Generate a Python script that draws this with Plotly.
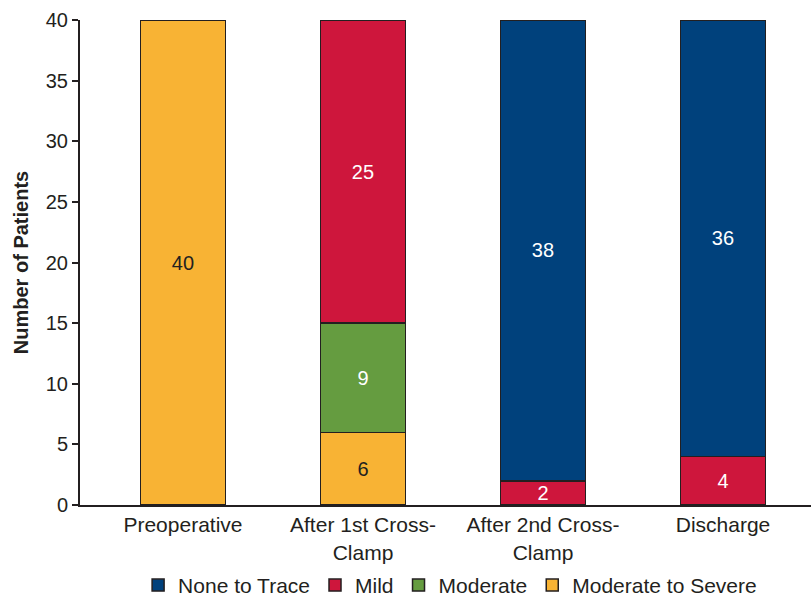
import plotly.graph_objects as go

categories = ["Preoperative", "After 1st Cross-<br>Clamp", "After 2nd Cross-<br>Clamp", "Discharge"]
mod_severe = [40, 6, None, None]
moderate = [None, 9, None, None]
mild = [None, 25, 2, 4]
none_trace = [None, None, 38, 36]

series = [
    ("Moderate to Severe", mod_severe, "#F8B334", "#231F20"),
    ("Moderate", moderate, "#659C40", "white"),
    ("Mild", mild, "#CE163C", "white"),
    ("None to Trace", none_trace, "#00417C", "white"),
]

FONT = "Liberation Sans, Arial"

fig = go.Figure()
for name, vals, color, tcolor in series:
    fig.add_trace(go.Bar(
        x=categories, y=vals, name=name,
        marker=dict(color=color, line=dict(color="#231F20", width=1.5)),
        text=[("" if v is None else str(v)) for v in vals],
        textposition="inside", insidetextanchor="middle", textangle=0,
        constraintext="none",
        textfont=dict(color=tcolor, size=20, family=FONT),
        hoverinfo="skip",
    ))

fig.update_layout(
    barmode="stack",
    bargap=0.528,
    width=811, height=598,
    margin=dict(l=80, r=0, t=20, b=93),
    plot_bgcolor="white", paper_bgcolor="white",
    font=dict(family=FONT, size=20, color="#231F20"),
    uniformtext=dict(mode="show", minsize=20),
    legend=dict(orientation="h", traceorder="reversed", x=0.555, xanchor="center",
                xref="container", yref="container",
                y=0.021, yanchor="middle", font=dict(size=21),
                itemwidth=30, tracegroupgap=0),
    showlegend=True,
)
fig.update_xaxes(range=[-0.572, 3.489], showline=True, linecolor="#231F20", linewidth=2,
                 ticks="", tickfont=dict(size=21))
fig.update_yaxes(range=[0, 40], dtick=5, showline=True, linecolor="#231F20", linewidth=2,
                 ticks="outside", ticklen=6, tickwidth=1.5, tickcolor="#231F20",
                 showgrid=False, zeroline=False, tickfont=dict(size=20),
                 title=dict(text="<b>Number of Patients</b>", font=dict(size=20), standoff=12))

fig.write_html("out.html")
